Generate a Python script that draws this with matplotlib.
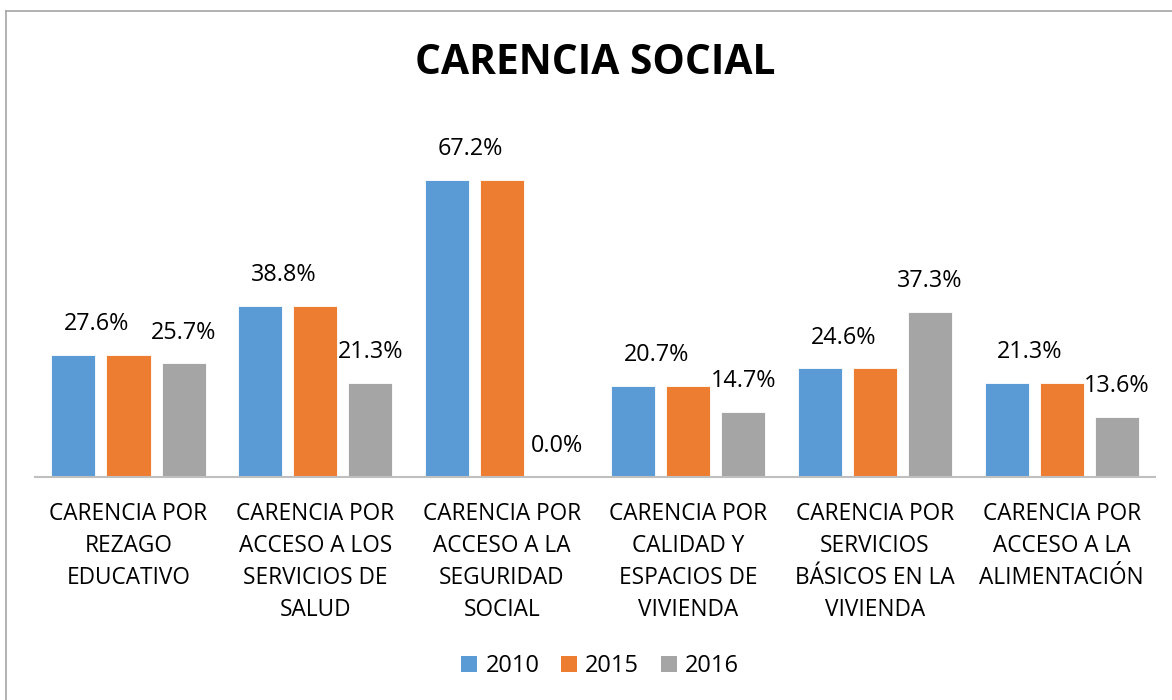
import matplotlib
matplotlib.use("Agg")
import matplotlib.pyplot as plt
from matplotlib.lines import Line2D
from matplotlib.patches import Patch
import numpy as np

categories = [
    "CARENCIA POR\nREZAGO\nEDUCATIVO",
    "CARENCIA POR\nACCESO A LOS\nSERVICIOS DE\nSALUD",
    "CARENCIA POR\nACCESO A LA\nSEGURIDAD\nSOCIAL",
    "CARENCIA POR\nCALIDAD Y\nESPACIOS DE\nVIVIENDA",
    "CARENCIA POR\nSERVICIOS\nBÁSICOS EN LA\nVIVIENDA",
    "CARENCIA POR\nACCESO A LA\nALIMENTACIÓN",
]
series_names = ["2010", "2015", "2016"]
v2010 = [27.6, 38.8, 67.2, 20.7, 24.6, 21.3]
v2015 = [27.6, 38.8, 67.2, 20.7, 24.6, 21.3]
v2016 = [25.7, 21.3, 0.0, 14.7, 37.3, 13.6]
colors = ["#5B9BD5", "#ED7D31", "#A5A5A5"]

FONT = "Open Sans"
W, H = 1172, 700
fig = plt.figure(figsize=(W / 100, H / 100), dpi=100)
fig.patch.set_facecolor("white")

# axes placement in pixels
ax_left, ax_right, ax_base, ax_top = 35.2, 1155.0, 477.0, 123.4
ax = fig.add_axes([ax_left / W, 1 - ax_base / H, (ax_right - ax_left) / W, (ax_base - ax_top) / H])

x = np.arange(len(categories))
bw = 0.236
step = 0.295
all_vals = [v2010, v2015, v2016]
for i, (vals, c) in enumerate(zip(all_vals, colors)):
    ax.bar(x + (i - 1) * step, vals, width=bw, color=c, edgecolor="white", linewidth=0.6, zorder=2)

ax.set_xlim(-0.5, len(categories) - 0.5)
ax.set_ylim(0, 80)
for s in ["top", "right", "left"]:
    ax.spines[s].set_visible(False)
ax.spines["bottom"].set_color("#BFBFBF")
ax.spines["bottom"].set_linewidth(1.5)
ax.set_yticks([])
ax.set_xticks(x)
ax.set_xticklabels(categories, fontfamily=FONT, fontsize=16.3, linespacing=1.45, va="top")
ax.tick_params(axis="x", length=0, pad=18)

# data labels
for j in range(len(categories)):
    xl = j + (-step + 0) / 2 - 0.022
    ax.annotate(f"{v2010[j]:.1f}%", (xl, v2010[j]), xytext=(0, 13.5), textcoords="offset points",
                ha="center", va="bottom", fontfamily=FONT, fontsize=16.8, color="#000000")
    ax.annotate(f"{v2016[j]:.1f}%", (j + step, v2016[j]), xytext=(0, 13.5), textcoords="offset points",
                ha="center", va="bottom", fontfamily=FONT, fontsize=16.8, color="#000000")

fig.text(595 / W, 1 - 63 / H, "CARENCIA SOCIAL", ha="center", va="center",
         fontfamily=FONT, fontweight="bold", fontsize=29.3)

handles = [Patch(facecolor=c, edgecolor="none") for c in colors]
fig.legend(handles, series_names, loc="center", bbox_to_anchor=(600 / W, 1 - 666 / H), ncol=3,
           frameon=False, prop={"family": FONT, "size": 17}, handlelength=0.68, handleheight=0.68,
           handletextpad=0.36, columnspacing=0.9)

# chart border (top and left visible)
fig.add_artist(Line2D([5.5 / W, 1.0], [1 - 10.5 / H] * 2, color="#A6A6A6", linewidth=1.2))
fig.add_artist(Line2D([5.5 / W] * 2, [0, 1 - 10.5 / H], color="#A6A6A6", linewidth=1.2))

fig.savefig("out.png", dpi=100, facecolor="white")
